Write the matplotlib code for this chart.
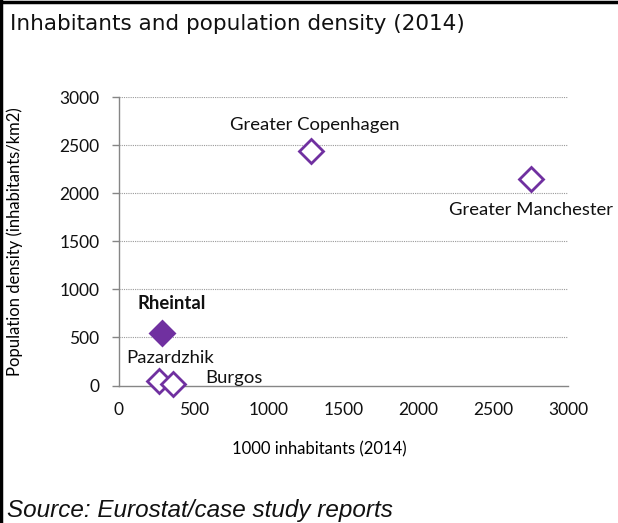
import matplotlib
matplotlib.use("Agg")
import matplotlib.pyplot as plt
from matplotlib.lines import Line2D

# data
regions = ['Greater Copenhagen', 'Greater Manchester', 'Rheintal', 'Pazardzhik', 'Burgos']
inhabitants = [1283, 2750, 287, 267, 359]      # 1000 inhabitants (2014)
density = [2438, 2146, 546, 50, 16]            # inhabitants / km2
filled = [False, False, True, False, False]
labelOffsets = [(3, 19), (0, -22), (7, 21), (8, 16), (44, 4)]  # points
boldLabel = [False, False, True, False, False]

xTicks = [0, 500, 1000, 1500, 2000, 2500, 3000]
yTicks = [0, 500, 1000, 1500, 2000, 2500, 3000]

purple = '#7030A0'
axisGray = '#868686'
labelFont = 'Lato'

fig = plt.figure(figsize=(6.18, 5.23), dpi=100)
ax = fig.add_axes([119 / 618, 1 - 385.5 / 523, (568 - 119) / 618, (385.5 - 97) / 523])

for x, y, f in zip(inhabitants, density, filled):
    ax.plot(x, y, marker='D', markersize=12, markeredgewidth=2,
            markeredgecolor=purple, markerfacecolor=purple if f else 'white',
            linestyle='none', zorder=3, clip_on=False)

for name, x, y, off, b in zip(regions, inhabitants, density, labelOffsets, boldLabel):
    ax.annotate(name, (x, y), xytext=off, textcoords='offset points',
                ha='center', va='center', fontsize=13.3, family=labelFont,
                fontweight='bold' if b else 'normal', color='#111111')

ax.set_xlim(0, 3000)
ax.set_ylim(0, 3000)
ax.set_xticks(xTicks)
ax.set_yticks(yTicks)
for t in yTicks[1:]:
    ax.axhline(t, color='#9a9a9a', linestyle=(0, (1, 1)), linewidth=0.8, zorder=1)

for side in ['top', 'right']:
    ax.spines[side].set_visible(False)
for side in ['left', 'bottom']:
    ax.spines[side].set_color(axisGray)
    ax.spines[side].set_linewidth(1.0)

ax.tick_params(axis='y', length=5, width=1, color=axisGray, pad=9, labelsize=12.5)
ax.tick_params(axis='x', length=0, pad=12, labelsize=12.5)
for lbl in ax.get_xticklabels() + ax.get_yticklabels():
    lbl.set_family(labelFont)
    lbl.set_color('#111111')

ax.set_ylabel('Population density (inhabitants/km2)', fontsize=12, family=labelFont)
ax.yaxis.set_label_coords(-0.213, 0.497)
ax.set_xlabel('1000 inhabitants (2014)', fontsize=12, family=labelFont)
ax.xaxis.set_label_coords(0.447, -0.195)

fig.text(10 / 618, 1 - 24 / 523, 'Inhabitants and population density (2014)',
         fontsize=15.5, family='DejaVu Sans', va='center', ha='left', color='#111111')
fig.text(7 / 618, 1 - 511 / 523, 'Source: Eurostat/case study reports',
         fontsize=17.5, family='Liberation Sans', style='italic', va='center', ha='left', color='#111111')

# outer frame (left and top only)
fig.add_artist(Line2D([1.5 / 618, 1.5 / 618], [0, 1], color='black', linewidth=2.5, transform=fig.transFigure))
fig.add_artist(Line2D([0, 1], [1 - 1.5 / 523, 1 - 1.5 / 523], color='black', linewidth=2.5, transform=fig.transFigure))

plt.savefig('out.png', dpi=100)
